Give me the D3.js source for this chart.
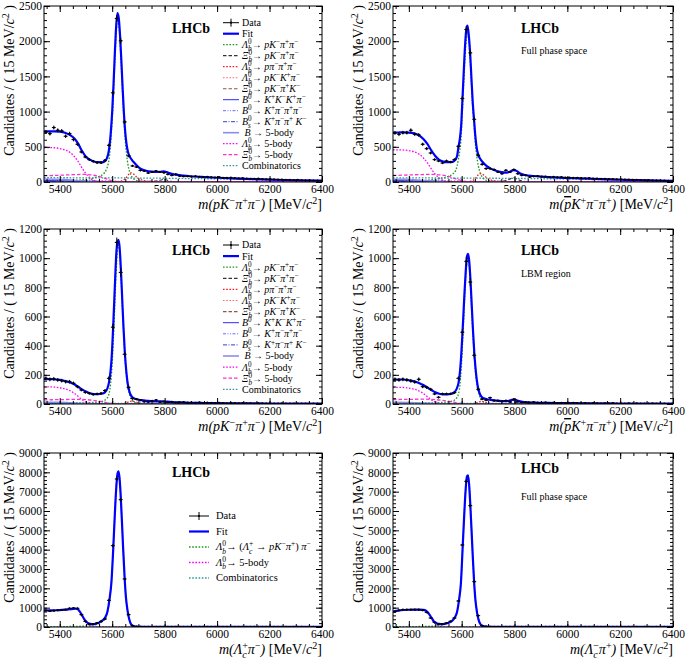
<!DOCTYPE html>
<html><head><meta charset="utf-8">
<script src="https://cdn.jsdelivr.net/npm/d3@7"></script>
<style>body{margin:0;background:#fff}svg{display:block}</style>
</head><body><svg id="c" width="685" height="661"></svg>
<script>
// ---------------- DATA ----------------
const xDomain = [5340, 6400];
const binStart = 5347.5, binStep = 15;
const xTicks = [5400, 5600, 5800, 6000, 6200, 6400];
const yTicksA = [0, 500, 1000, 1500, 2000, 2500];
const yTicksC = [0, 200, 400, 600, 800, 1000, 1200];
const yTicksE = [0, 1000, 2000, 3000, 4000, 5000, 6000, 7000, 8000, 9000];

// data counts per 15 MeV bin
const A_data = [711,687,773,735,725,650,687,602,536,427,356,318,294,275,275,308,522,1266,2323,2005,853,370,228,213,166,156,128,142,156,142,133,109,95,109,85,80,80,76,82,73,70,74,66,64,68,60,58,61,55,52,54,48,46,44,47,41,38,40,36,33,35,31,29,28,30,25,23,24,21,19,18];
const B_data = [697,678,701,701,735,678,668,536,474,412,318,299,270,299,284,318,507,1185,2166,1834,891,379,251,190,190,175,142,118,166,142,175,118,95,95,71,80,84,75,77,70,72,66,69,62,64,58,60,55,52,54,49,47,45,46,41,40,38,39,34,33,31,32,28,26,27,23,22,21,19,16,15];
const C_data = [176,169,172,165,160,153,153,142,119,96,80,73,66,69,73,92,176,527,1108,902,341,114,37,34,27,16,14,21,27,14,16,12,15,10,11,13,9,10,8,11,7,9,8,6,8,7,5,7,6,4,6,5,5,3,5,4,3,4,3,2,4,3,2,3,2,2,3,1,2,2,1];
const D_data = [169,165,169,165,158,151,169,119,114,101,69,46,69,69,69,78,176,492,978,836,334,101,34,27,43,23,23,18,23,16,32,16,11,12,10,13,9,8,11,7,9,6,8,7,5,8,6,5,7,4,6,5,3,5,4,6,3,4,3,5,2,4,3,2,3,4,2,3,2,1,2];
const E_data = [862,828,845,862,879,897,965,983,965,638,293,155,155,207,293,414,1379,4207,7655,6586,2483,638,69,17,12,9,8,10,7,9,6,8,7,5,6,8,5,7,4,6,5,4,6,3,5,4,3,5,4,3,4,2,3,4,3,2,3,2,4,2,3,2,1,3,2,2,1,2,2,1,2];
const F_data = [793,862,897,897,897,897,897,862,759,466,241,155,155,207,293,466,1345,4241,7534,6276,2345,586,69,18,11,9,8,10,7,6,8,5,7,6,4,6,5,7,4,5,3,5,4,6,3,4,3,5,2,4,3,3,2,4,2,3,3,2,1,3,2,2,1,2,3,1,2,1,2,1,2];

// fit curves: [mass, candidates]
const A_fit = [[5340,718],[5360,720],[5380,720],[5400,715],[5420,700],[5440,665],[5455,620],[5470,545],[5485,440],[5500,360],[5515,318],[5530,292],[5545,282],[5560,280],[5572,295],[5580,340],[5585,400],[5590,520],[5595,720],[5600,1000],[5605,1380],[5610,1820],[5615,2200],[5620,2400],[5625,2330],[5630,2080],[5635,1720],[5640,1320],[5645,960],[5650,700],[5655,530],[5660,430],[5667,360],[5675,315],[5685,270],[5697,222],[5710,185],[5730,160],[5750,148],[5770,142],[5785,146],[5797,150],[5808,140],[5820,122],[5840,105],[5870,92],[5900,82],[5950,70],[6000,60],[6100,45],[6200,34],[6300,25],[6400,18]];
const B_fit = [[5340,700],[5360,703],[5380,705],[5400,702],[5420,690],[5440,660],[5455,610],[5470,540],[5485,450],[5500,370],[5515,315],[5530,290],[5545,282],[5560,282],[5572,300],[5582,360],[5588,500],[5593,610],[5598,800],[5603,1180],[5608,1580],[5613,1950],[5618,2180],[5622,2220],[5627,2080],[5632,1830],[5637,1470],[5642,1120],[5647,880],[5652,640],[5657,480],[5663,385],[5670,330],[5680,280],[5695,225],[5710,190],[5730,160],[5750,140],[5770,133],[5785,150],[5797,170],[5808,158],[5820,125],[5840,100],[5870,85],[5900,75],[5950,65],[6000,57],[6100,43],[6200,32],[6300,22],[6400,15]];
const C_fit = [[5340,172],[5370,170],[5400,165],[5420,158],[5440,148],[5455,135],[5470,118],[5485,100],[5500,85],[5515,74],[5530,68],[5545,67],[5560,70],[5572,80],[5582,108],[5588,150],[5594,230],[5598,320],[5604,540],[5610,800],[5615,1010],[5620,1110],[5624,1125],[5628,1080],[5633,930],[5638,730],[5643,530],[5648,360],[5654,220],[5660,130],[5667,78],[5675,50],[5690,34],[5710,26],[5740,21],[5770,18],[5795,19],[5810,16],[5830,13],[5870,10],[5950,7],[6050,5],[6200,3],[6400,2]];
const D_fit = [[5340,165],[5360,168],[5380,168],[5400,163],[5420,155],[5440,143],[5455,130],[5470,113],[5485,96],[5500,80],[5515,70],[5530,66],[5545,66],[5560,70],[5572,80],[5582,108],[5590,165],[5597,300],[5604,520],[5610,740],[5615,900],[5620,1010],[5624,1030],[5628,990],[5633,860],[5638,680],[5643,500],[5648,345],[5654,215],[5660,130],[5667,78],[5675,50],[5690,35],[5710,28],[5740,22],[5770,20],[5790,28],[5800,30],[5810,24],[5830,15],[5870,10],[5950,7],[6050,5],[6200,3],[6400,2]];
const E_fit = [[5340,850],[5360,858],[5380,865],[5400,875],[5420,895],[5440,920],[5452,940],[5462,945],[5472,880],[5482,680],[5492,440],[5502,260],[5512,175],[5522,150],[5532,148],[5542,190],[5552,240],[5562,330],[5572,460],[5582,800],[5590,1450],[5597,2300],[5604,4050],[5610,5800],[5615,7100],[5620,7900],[5624,8050],[5628,7700],[5632,6900],[5637,5500],[5642,4000],[5647,2650],[5652,1600],[5658,900],[5665,400],[5672,140],[5680,50],[5695,18],[5720,10],[5800,6],[6000,4],[6400,2]];
const F_fit = [[5340,800],[5360,850],[5380,880],[5400,893],[5420,898],[5440,898],[5455,890],[5465,840],[5475,700],[5485,500],[5495,290],[5505,200],[5515,160],[5525,150],[5535,160],[5545,195],[5555,250],[5565,340],[5575,520],[5582,750],[5590,1400],[5597,2250],[5604,4200],[5610,5900],[5615,7100],[5620,7800],[5624,7850],[5628,7400],[5632,6500],[5637,5100],[5642,3650],[5647,2350],[5652,1400],[5658,760],[5665,330],[5672,120],[5680,45],[5695,18],[5720,9],[5800,6],[6000,4],[6400,2]];

// fit components, panel A (top left)
const A_sig = [[5340,10],[5420,18],[5480,30],[5520,50],[5545,75],[5565,110],[5578,180],[5585,260],[5590,380],[5595,590],[5600,880],[5605,1260],[5610,1710],[5615,2100],[5620,2310],[5625,2240],[5630,1990],[5635,1630],[5640,1230],[5645,870],[5650,590],[5655,390],[5660,250],[5667,140],[5675,75],[5685,35],[5700,15],[5740,5],[5800,1],[6000,0],[6400,0]];
const A_xib = [[5340,0],[5700,0],[5750,5],[5775,18],[5790,32],[5798,36],[5808,28],[5825,10],[5850,3],[5900,0],[6400,0]];
const A_ppp = [[5340,0],[5600,0],[5630,10],[5650,45],[5662,105],[5672,130],[5682,112],[5695,65],[5715,25],[5745,8],[5800,2],[6400,0]];
const A_kkp = [[5340,2],[5480,5],[5530,12],[5565,20],[5590,16],[5615,6],[5650,1],[6400,0]];
const A_xik = [[5340,0],[5650,0],[5700,4],[5730,10],[5755,12],[5780,7],[5810,2],[5850,0],[6400,0]];
const A_b0kkk = [[5340,22],[5380,20],[5420,15],[5460,8],[5500,3],[5550,0],[6400,0]];
const A_b0kppp = [[5340,8],[5420,14],[5480,18],[5520,17],[5560,10],[5600,3],[5650,0],[6400,0]];
const A_bs = [[5340,5],[5400,10],[5450,16],[5500,15],[5550,8],[5600,2],[5650,0],[6400,0]];
const A_b5 = [[5340,42],[5380,40],[5420,34],[5460,22],[5500,10],[5540,3],[5580,0],[6400,0]];
const A_lb5 = [[5340,490],[5370,488],[5400,476],[5420,456],[5440,418],[5455,365],[5470,292],[5485,200],[5500,118],[5515,58],[5530,22],[5545,7],[5560,1],[5600,0],[6400,0]];
const A_xb5 = [[5340,88],[5400,96],[5450,104],[5490,108],[5520,100],[5550,80],[5575,48],[5600,18],[5625,4],[5650,0],[6400,0]];
const A_comb = [[5340,62],[5500,59],[5700,56],[5800,53],[5900,49],[6000,44],[6100,37],[6200,30],[6300,23],[6400,17]];

// panel B (top right)
const B_sig = [[5340,10],[5420,18],[5480,30],[5520,50],[5545,75],[5565,110],[5578,170],[5588,330],[5593,450],[5598,640],[5603,1020],[5608,1420],[5613,1790],[5618,2040],[5622,2130],[5627,2000],[5632,1750],[5637,1390],[5642,1040],[5647,790],[5652,540],[5657,370],[5663,230],[5670,130],[5680,60],[5695,22],[5740,6],[5800,1],[6000,0],[6400,0]];
const B_xib = [[5340,0],[5700,0],[5750,8],[5775,30],[5790,52],[5798,58],[5808,45],[5825,18],[5850,5],[5900,0],[6400,0]];
const B_ppp = [[5340,0],[5600,0],[5630,10],[5650,42],[5662,98],[5672,120],[5682,104],[5695,60],[5715,24],[5745,8],[5800,2],[6400,0]];
const B_kkp = [[5340,2],[5480,5],[5530,11],[5565,18],[5590,15],[5615,6],[5650,1],[6400,0]];
const B_xik = [[5340,0],[5650,0],[5700,4],[5730,9],[5755,11],[5780,7],[5810,2],[5850,0],[6400,0]];
const B_b0kkk = [[5340,20],[5380,19],[5420,14],[5460,8],[5500,3],[5550,0],[6400,0]];
const B_b0kppp = [[5340,8],[5420,13],[5480,17],[5520,16],[5560,9],[5600,3],[5650,0],[6400,0]];
const B_bs = [[5340,5],[5400,10],[5450,15],[5500,14],[5550,7],[5600,2],[5650,0],[6400,0]];
const B_b5 = [[5340,40],[5380,38],[5420,32],[5460,21],[5500,10],[5540,3],[5580,0],[6400,0]];
const B_lb5 = [[5340,458],[5370,456],[5400,446],[5420,428],[5440,392],[5455,342],[5470,274],[5485,188],[5500,110],[5515,54],[5530,20],[5545,6],[5560,1],[5600,0],[6400,0]];
const B_xb5 = [[5340,92],[5400,100],[5450,106],[5490,108],[5520,100],[5550,80],[5575,48],[5600,18],[5625,4],[5650,0],[6400,0]];
const B_comb = [[5340,60],[5500,57],[5700,54],[5800,51],[5900,47],[6000,42],[6100,35],[6200,28],[6300,21],[6400,15]];

// panel C (middle left)
const C_sig = [[5340,3],[5450,5],[5520,10],[5560,18],[5578,35],[5588,70],[5594,140],[5598,220],[5604,420],[5610,680],[5615,900],[5620,1050],[5624,1090],[5628,1050],[5633,900],[5638,700],[5643,505],[5648,340],[5654,200],[5660,115],[5667,60],[5675,28],[5690,8],[5720,2],[5800,0],[6400,0]];
const C_xib = [[5340,0],[5740,0],[5780,3],[5797,6],[5815,3],[5850,0],[6400,0]];
const C_ppp = [[5340,0],[5620,0],[5650,6],[5665,16],[5675,20],[5688,15],[5705,6],[5740,1],[5800,0],[6400,0]];
const C_kkp = [[5340,1],[5500,2],[5560,4],[5600,2],[5650,0],[6400,0]];
const C_xik = [[5340,0],[5680,0],[5730,2],[5760,3],[5800,1],[5850,0],[6400,0]];
const C_b0kkk = [[5340,6],[5420,4],[5500,1],[5550,0],[6400,0]];
const C_b0kppp = [[5340,2],[5450,4],[5520,4],[5580,1],[5620,0],[6400,0]];
const C_bs = [[5340,1],[5420,3],[5500,3],[5570,1],[5620,0],[6400,0]];
const C_b5 = [[5340,12],[5400,11],[5460,7],[5510,2],[5550,0],[6400,0]];
const C_lb5 = [[5340,118],[5380,116],[5410,108],[5430,98],[5450,80],[5465,60],[5480,38],[5495,18],[5510,6],[5530,1],[5560,0],[6400,0]];
const C_xb5 = [[5340,28],[5400,30],[5460,32],[5500,30],[5540,22],[5570,12],[5600,3],[5630,0],[6400,0]];
const C_comb = [[5340,6],[5600,5],[6000,3],[6400,2]];

// panel D (middle right)
const D_sig = [[5340,3],[5450,5],[5520,10],[5560,18],[5578,35],[5588,70],[5594,140],[5598,230],[5604,440],[5610,670],[5615,860],[5620,970],[5624,995],[5628,955],[5633,820],[5638,640],[5643,465],[5648,315],[5654,190],[5660,110],[5667,58],[5675,27],[5690,8],[5720,2],[5800,0],[6400,0]];
const D_xib = [[5340,0],[5740,0],[5775,5],[5797,14],[5815,6],[5850,0],[6400,0]];
const D_ppp = [[5340,0],[5620,0],[5650,5],[5665,14],[5675,18],[5688,13],[5705,5],[5740,1],[5800,0],[6400,0]];
const D_lb5 = [[5340,115],[5380,113],[5410,106],[5430,96],[5450,78],[5465,58],[5480,36],[5495,17],[5510,6],[5530,1],[5560,0],[6400,0]];
const D_xb5 = [[5340,30],[5400,32],[5460,33],[5500,30],[5540,22],[5570,12],[5600,3],[5630,0],[6400,0]];
const D_b5 = [[5340,11],[5400,10],[5460,6],[5510,2],[5550,0],[6400,0]];
const D_comb = [[5340,5],[5600,4],[6000,3],[6400,2]];

// panels E, F (bottom)
const E_sig = [[5340,15],[5420,22],[5480,40],[5510,70],[5530,110],[5545,160],[5555,215],[5565,310],[5575,470],[5582,795],[5590,1445],[5597,2295],[5604,4045],[5610,5795],[5615,7095],[5620,7895],[5624,8045],[5628,7695],[5632,6895],[5637,5495],[5642,3995],[5647,2645],[5652,1595],[5658,895],[5665,395],[5672,136],[5680,46],[5695,15],[5720,7],[5800,3],[6400,0]];
const E_lb5 = [[5340,835],[5380,850],[5420,880],[5440,905],[5452,925],[5462,928],[5472,860],[5482,650],[5492,400],[5502,200],[5512,90],[5522,30],[5532,6],[5545,1],[5560,0],[6400,0]];
const E_comb = [[5340,6],[5600,5],[6000,3],[6400,2]];
const F_sig = [[5340,15],[5420,22],[5480,40],[5510,70],[5530,115],[5545,175],[5555,230],[5565,320],[5575,505],[5582,740],[5590,1395],[5597,2245],[5604,4195],[5610,5895],[5615,7095],[5620,7795],[5624,7845],[5628,7395],[5632,6495],[5637,5095],[5642,3645],[5647,2345],[5652,1395],[5658,755],[5665,325],[5672,116],[5680,42],[5695,15],[5720,7],[5800,3],[6400,0]];
const F_lb5 = [[5340,790],[5360,840],[5380,870],[5400,882],[5440,886],[5455,876],[5465,825],[5475,680],[5485,460],[5495,240],[5505,120],[5515,50],[5525,15],[5540,1],[5560,0],[6400,0]];
const F_comb = [[5340,6],[5600,5],[6000,3],[6400,2]];

// legend labels
const legA = ['Data','Fit',
 '{i:Λ}{ss:0,b}→ {i:pK}{sup:−}{i:π}{sup:+}{i:π}{sup:−}',
 '{i:Ξ}{ss:0,b}→ {i:pK}{sup:−}{i:π}{sup:+}{i:π}{sup:−}',
 '{i:Λ}{ss:0,b}→ {i:pπ}{sup:−}{i:π}{sup:+}{i:π}{sup:−}',
 '{i:Λ}{ss:0,b}→ {i:pK}{sup:−}{i:K}{sup:+}{i:π}{sup:−}',
 '{i:Ξ}{ss:0,b}→ {i:pK}{sup:−}{i:π}{sup:+}{i:K}{sup:−}',
 '{i:B}{sup:0}→ {i:K}{sup:+}{i:K}{sup:−}{i:K}{sup:+}{i:π}{sup:−}',
 '{i:B}{sup:0}→ {i:K}{sup:+}{i:π}{sup:−}{i:π}{sup:+}{i:π}{sup:−}',
 '{i:B}{ss:0,s}→ {i:K}{sup:+}{i:π}{sup:−}{i:π}{sup:+} {i:K}{sup:−}',
 ' {i:B} → 5-body',
 '{i:Λ}{ss:0,b}→ 5-body',
 '{i:Ξ}{ss:0,b}→ 5-body',
 'Combinatorics'];
const legE = ['Data','Fit',
 '{i:Λ}{ss:0,b}→ ({i:Λ}{ss:+,c} → {i:pK}{sup:−}{i:π}{sup:+}) {i:π}{sup:−}',
 '{i:Λ}{ss:0,b}→ 5-body',
 'Combinatorics'];
const yTitle = 'Candidates / ( 15 MeV/{i:c}{sup:2} )';
const xTitleA = '{i:m(pK}{sup:−}{i:π}{sup:+}{i:π}{sup:−}{i:)} [MeV/{i:c}{sup:2}]';
const xTitleB = '{i:m(}{ov:p}{i:K}{sup:+}{i:π}{sup:−}{i:π}{sup:+}{i:)} [MeV/{i:c}{sup:2}]';
const xTitleE = '{i:m(Λ}{ss:+,c}{i:π}{sup:−}{i:)} [MeV/{i:c}{sup:2}]';
const xTitleF = '{i:m(Λ}{ss:−,c}{i:π}{sup:+}{i:)} [MeV/{i:c}{sup:2}]';

// ---------------- STYLE ----------------
const FONT = "'Liberation Serif','Times New Roman',serif";
const TICK_FS = 11.5, TITLE_FS = 14;
const ST = {
  sig:{c:'#1e9a1e',d:'1.6,1.6',w:1.3}, xib:{c:'#333333',d:'3.5,2',w:1.2},
  ppp:{c:'#ff1a1a',d:'1.6,1.6',w:1.3}, kkp:{c:'#ff6a6a',d:'1.6,1.6',w:1.1},
  xik:{c:'#8a5a44',d:'3.5,2',w:1.1}, b0kkk:{c:'#2a2aff',d:null,w:1},
  b0kppp:{c:'#6a6aff',d:'3,1.5,1,1.5,1,1.5',w:1}, bs:{c:'#3a3acc',d:'4,1.5,1,1.5',w:1},
  b5:{c:'#8c8cf0',d:null,w:1.6}, lb5:{c:'#ff00ff',d:'1.6,1.6',w:1.3},
  xb5:{c:'#ff30d0',d:'3.5,2',w:1.3}, comb:{c:'#2e9a9a',d:'1.6,1.6',w:1.3}
};
const keysA = ['sig','xib','ppp','kkp','xik','b0kkk','b0kppp','bs','b5','lb5','xb5','comb'];
const keysE = ['sig','lb5','comb'];

const svg = d3.select('#c');

function rich(t, markup, fs) {
  t.style('white-space', 'pre');
  const re = /\{(\w+):([^}]*)\}|([^{]+)/g;
  let m, cur = 0, pend = 0;
  const small = fs * 0.72, up = -fs * 0.38, down = fs * 0.3;
  const add = () => { const s = t.append('tspan'); if (pend) { s.attr('dx', pend); pend = 0; } return s; };
  while ((m = re.exec(markup)) !== null) {
    if (m[3] !== undefined) { add().attr('dy', -cur).text(m[3]); cur = 0; continue; }
    const k = m[1], v = m[2];
    if (k === 'i') { add().attr('dy', -cur).attr('font-style', 'italic').text(v); cur = 0; }
    else if (k === 'ov') { add().attr('dy', -cur).attr('font-style', 'italic').attr('text-decoration', 'overline').text(v); cur = 0; }
    else if (k === 'sup') { add().attr('dy', up - cur).attr('font-size', small).text(v); cur = up; }
    else if (k === 'sub') { add().attr('dy', down - cur).attr('font-size', small).attr('font-style','italic').text(v); cur = down; }
    else if (k === 'ss') {
      const [a, b] = v.split(',');
      const s1 = add().attr('dy', up - cur).attr('font-size', small).text(a);
      const w1 = s1.node().getComputedTextLength();
      const s2 = t.append('tspan').attr('dx', -w1).attr('dy', down - up).attr('font-size', small).attr('font-style', 'italic').text(b);
      const w2 = s2.node().getComputedTextLength();
      if (w2 < w1) pend = w1 - w2;
      cur = down;
    }
  }
}

function drawPanel(p) {
  const g = svg.append('g');
  const x = d3.scaleLinear().domain(xDomain).range([p.l, p.r]);
  const y = d3.scaleLinear().domain([0, p.yt[p.yt.length - 1]]).range([p.b, p.t]);
  const cid = 'clip' + p.id;
  svg.append('clipPath').attr('id', cid).append('rect')
    .attr('x', p.l).attr('y', p.t - 1).attr('width', p.r - p.l).attr('height', p.b - p.t + 1);
  const plot = g.append('g').attr('clip-path', `url(#${cid})`);
  const line = d3.line().x(d => x(d[0])).y(d => y(d[1])).curve(d3.curveMonotoneX);
  p.comps.forEach(([k, arr]) => {
    const s = ST[k];
    plot.append('path').attr('d', line(arr)).attr('fill', 'none')
      .attr('stroke', s.c).attr('stroke-width', s.w).attr('stroke-dasharray', s.d);
  });
  plot.append('path').attr('d', line(p.fit)).attr('fill', 'none')
    .attr('stroke', '#0000ff').attr('stroke-width', 2.2);
  // data
  const bw = x(binStep) - x(0);
  const dg = plot.append('g').attr('stroke', '#000').attr('stroke-width', 1);
  p.data.forEach((v, i) => {
    const c = binStart + i * binStep, cx = x(c), e = Math.sqrt(v);
    dg.append('line').attr('x1', cx - bw / 2).attr('x2', cx + bw / 2).attr('y1', y(v)).attr('y2', y(v));
    dg.append('line').attr('x1', cx).attr('x2', cx).attr('y1', y(v + e)).attr('y2', y(Math.max(0, v - e)));
    dg.append('circle').attr('cx', cx).attr('cy', y(v)).attr('r', 1.1).attr('fill', '#000').attr('stroke', 'none');
  });
  // axes
  const xMinor = d3.range(5350, 6401, 50);
  const ystep = p.yt[1] - p.yt[0];
  const yMinor = d3.range(0, p.yt[p.yt.length - 1] + 1e-6, ystep / 5);
  const axStyle = a => { a.select('.domain').remove(); a.selectAll('line').attr('stroke', '#000'); a.selectAll('text').attr('font-family', FONT).attr('font-size', TICK_FS).attr('fill', '#000'); };
  g.append('g').attr('transform', `translate(0,${p.b})`).call(d3.axisBottom(x).tickValues(xTicks).tickSize(-6).tickPadding(3).tickFormat(d3.format('d'))).call(axStyle);
  g.append('g').attr('transform', `translate(0,${p.b})`).call(d3.axisBottom(x).tickValues(xMinor).tickSize(-3).tickFormat('')).call(axStyle);
  g.append('g').attr('transform', `translate(0,${p.t})`).call(d3.axisTop(x).tickValues(xTicks).tickSize(-6).tickFormat('')).call(axStyle);
  g.append('g').attr('transform', `translate(0,${p.t})`).call(d3.axisTop(x).tickValues(xMinor).tickSize(-3).tickFormat('')).call(axStyle);
  g.append('g').attr('transform', `translate(${p.l},0)`).call(d3.axisLeft(y).tickValues(p.yt).tickSize(-6).tickPadding(2).tickFormat(d3.format('d'))).call(axStyle);
  g.append('g').attr('transform', `translate(${p.l},0)`).call(d3.axisLeft(y).tickValues(yMinor).tickSize(-3).tickFormat('')).call(axStyle);
  g.append('g').attr('transform', `translate(${p.r},0)`).call(d3.axisRight(y).tickValues(p.yt).tickSize(-6).tickFormat('')).call(axStyle);
  g.append('g').attr('transform', `translate(${p.r},0)`).call(d3.axisRight(y).tickValues(yMinor).tickSize(-3).tickFormat('')).call(axStyle);
  g.append('rect').attr('x', p.l).attr('y', p.t).attr('width', p.r - p.l).attr('height', p.b - p.t)
    .attr('fill', 'none').attr('stroke', '#000').attr('stroke-width', 1);
  // titles
  const xt = g.append('text').attr('x', p.r).attr('y', p.b + 27).attr('text-anchor', 'end')
    .attr('font-family', FONT).attr('font-size', TITLE_FS);
  rich(xt, p.xTitle, TITLE_FS);
  const yt = g.append('text').attr('transform', `translate(${p.l - 30},${p.t - 1}) rotate(-90)`)
    .attr('text-anchor', 'end').attr('font-family', FONT).attr('font-size', TITLE_FS);
  rich(yt, yTitle, TITLE_FS);
  g.append('text').attr('x', p.lhcb[0]).attr('y', p.lhcb[1]).attr('font-family', FONT)
    .attr('font-weight', 'bold').attr('font-size', 14).text('LHCb');
  if (p.note) g.append('text').attr('x', p.note[0]).attr('y', p.note[1]).attr('font-family', FONT)
    .attr('font-size', 10).text(p.note[2]);
  // legend
  if (p.leg) {
    const L = p.leg;
    L.labels.forEach((lab, i) => {
      const yy = L.y0 + L.dy * i;
      const lg = g.append('g');
      if (i === 0) {
        lg.append('line').attr('x1', L.x1).attr('x2', L.x2).attr('y1', yy).attr('y2', yy).attr('stroke', '#000');
        lg.append('line').attr('x1', (L.x1 + L.x2) / 2).attr('x2', (L.x1 + L.x2) / 2).attr('y1', yy - 4).attr('y2', yy + 4).attr('stroke', '#000');
        lg.append('circle').attr('cx', (L.x1 + L.x2) / 2).attr('cy', yy).attr('r', 1.1);
      } else if (i === 1) {
        lg.append('line').attr('x1', L.x1).attr('x2', L.x2).attr('y1', yy).attr('y2', yy).attr('stroke', '#0000ff').attr('stroke-width', 2.2);
      } else {
        const s = ST[L.keys[i - 2]];
        lg.append('line').attr('x1', L.x1).attr('x2', L.x2).attr('y1', yy).attr('y2', yy)
          .attr('stroke', s.c).attr('stroke-width', s.w).attr('stroke-dasharray', s.d);
      }
      const t = lg.append('text').attr('x', L.tx).attr('y', yy + 3.4).attr('font-family', FONT).attr('font-size', L.fs);
      rich(t, lab, L.fs);
    });
  }
}

const compsOf = (keys, arrs) => keys.map((k, i) => [k, arrs[i]]).filter(d => d[1]);

const panels = [
  {id:'A', l:44, r:322, t:6, b:182, yt:yTicksA, data:A_data, fit:A_fit, xTitle:xTitleA, lhcb:[172,33],
   comps: compsOf(keysA, [A_sig,A_xib,A_ppp,A_kkp,A_xik,A_b0kkk,A_b0kppp,A_bs,A_b5,A_lb5,A_xb5,A_comb]),
   leg:{labels:legA, keys:keysA, x1:223, x2:239, tx:242, y0:22.7, dy:11, fs:10}},
  {id:'B', l:393, r:673, t:6, b:182, yt:yTicksA, data:B_data, fit:B_fit, xTitle:xTitleB, lhcb:[521,33],
   note:[521,54,'Full phase space'],
   comps: compsOf(keysA, [B_sig,B_xib,B_ppp,B_kkp,B_xik,B_b0kkk,B_b0kppp,B_bs,B_b5,B_lb5,B_xb5,B_comb])},
  {id:'C', l:44, r:322, t:229, b:404, yt:yTicksC, data:C_data, fit:C_fit, xTitle:xTitleA, lhcb:[172,255],
   comps: compsOf(keysA, [C_sig,C_xib,C_ppp,C_kkp,C_xik,C_b0kkk,C_b0kppp,C_bs,C_b5,C_lb5,C_xb5,C_comb]),
   leg:{labels:legA, keys:keysA, x1:223, x2:239, tx:242, y0:245, dy:11.1, fs:10}},
  {id:'D', l:393, r:673, t:229, b:404, yt:yTicksC, data:D_data, fit:D_fit, xTitle:xTitleB, lhcb:[521,255],
   note:[521,277,'LBM region'],
   comps: compsOf(['sig','xib','ppp','b5','lb5','xb5','comb'], [D_sig,D_xib,D_ppp,D_b5,D_lb5,D_xb5,D_comb])},
  {id:'E', l:44, r:322, t:453, b:627, yt:yTicksE, data:E_data, fit:E_fit, xTitle:xTitleE, lhcb:[172,477],
   comps: compsOf(keysE, [E_sig,E_lb5,E_comb]),
   leg:{labels:legE, keys:keysE, x1:189, x2:209, tx:216, y0:516, dy:15.5, fs:10.5}},
  {id:'F', l:393, r:673, t:453, b:627, yt:yTicksE, data:F_data, fit:F_fit, xTitle:xTitleF, lhcb:[521,473],
   note:[521,500,'Full phase space'],
   comps: compsOf(keysE, [F_sig,F_lb5,F_comb])}
];
panels.forEach(drawPanel);
</script></body></html>
